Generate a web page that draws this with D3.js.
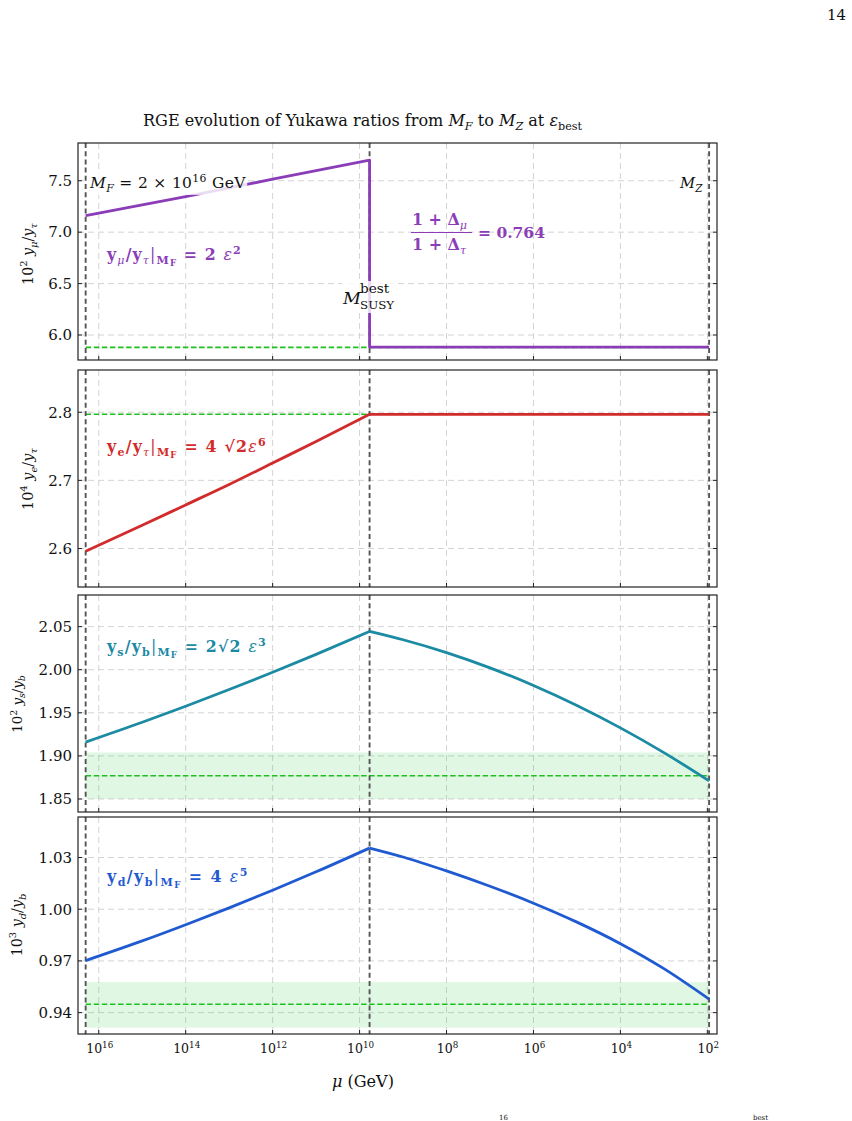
<!DOCTYPE html>
<html><head><meta charset="utf-8">
<script src="https://cdn.jsdelivr.net/npm/d3@7/dist/d3.min.js"></script>
<style>html,body{margin:0;padding:0;background:#fff;} svg{display:block;} text{white-space:pre;}</style>
</head><body>
<svg id="c" width="852" height="1121"></svg>
<script>
// ---------- data ----------
const xTickExp = [16, 14, 12, 10, 8, 6, 4, 2];
const logMF = Math.log10(2e16), logSUSY = 9.77, logMZ = Math.log10(91.19);
const logHigh = [logMF, 15, 14, 13, 12, 11, logSUSY];
const logLow = [logSUSY, 9, 8, 7, 6, 5, 4, 3, logMZ];
// panel 1 : 10^2 y_mu/y_tau
const ymuHigh = [7.16, 7.265, 7.345, 7.43, 7.515, 7.598, 7.70];
const ymuLow = 5.883;
const ymuTicks = [6.0, 6.5, 7.0, 7.5];
const ymuObs = 5.88;
// panel 2 : 10^4 y_e/y_tau
const yeHigh = [2.596, 2.634, 2.664, 2.694, 2.7255, 2.757, 2.797];
const yeLow = 2.797;
const yeTicks = [2.6, 2.7, 2.8];
const yeObs = 2.797;
// panel 3 : 10^2 y_s/y_b
const ysHigh = [1.916, 1.939, 1.9576, 1.977, 1.997, 2.0178, 2.0445];
const ysLow = [2.0445, 2.0348, 2.0199, 2.0022, 1.9817, 1.9585, 1.9325, 1.9038, 1.871];
const ysTicks = [1.85, 1.90, 1.95, 2.00, 2.05];
const ysObs = 1.877, ysBand = [1.850, 1.904];
// panel 4 : 10^3 y_d/y_b
const ydHigh = [0.9702, 0.9816, 0.991, 1.0008, 1.011, 1.0217, 1.0355];
const ydLow = [1.0355, 1.0303, 1.0222, 1.0133, 1.0035, 0.9925, 0.9800, 0.9655, 0.9478];
const ydTicks = [0.94, 0.97, 1.00, 1.03];
const ydObs = 0.9449, ydBand = [0.9313, 0.9577];

// ---------- setup ----------
const FONT = "'DejaVu Serif','Liberation Serif',serif";
const svg = d3.select('#c');
const X0 = 78, X1 = 717;
const x = d3.scaleLog().domain([3e16, 60]).range([X0, X1]);
const lx = l => x(Math.pow(10, l));

function rich(g, px, py, parts, o) {
  const t = g.append('text').attr('x', px).attr('y', py)
    .attr('font-family', FONT).attr('font-size', o.size)
    .attr('fill', o.color || '#111').attr('text-anchor', o.anchor || 'start');
  if (o.transform) t.attr('transform', o.transform);
  if (o.ls) t.attr('letter-spacing', o.ls);
  let cur = 0;
  parts.forEach(p => {
    const s = p[0], m = p[1] || '';
    let lvl = 0, fs = o.size;
    if (m.includes('^')) { lvl = -0.40 * o.size; fs = o.size * 0.7; }
    if (m.includes('_')) { lvl = 0.25 * o.size; fs = o.size * 0.7; }
    if (m.includes('__')) { lvl = 0.40 * o.size; fs = o.size * 0.55; }
    const ts = t.append('tspan').text(s).attr('font-size', fs);
    if (lvl - cur !== 0) ts.attr('dy', lvl - cur);
    cur = lvl;
    if (m.includes('i')) ts.attr('font-style', 'italic');
    if (m.includes('b')) ts.attr('font-weight', 'bold');
  });
  return t;
}
// render, then rescale the font (up to a cap, then letter-spacing) to span the width
function richFit(g, px, py, parts, o, W) {
  const t = rich(g, px, py, parts, o);
  const w = t.node().getBBox().width;
  t.remove();
  let size = o.size * W / w;
  if (o.cap && size > o.cap) {
    const n = parts.reduce((s, p) => s + p[0].length, 0);
    const w2 = w * o.cap / o.size;
    return rich(g, px, py, parts, Object.assign({}, o, { size: o.cap, ls: (W - w2) / n }));
  }
  return rich(g, px, py, parts, Object.assign({}, o, { size }));
}
function boxBehind(g, t, pad, op) {
  const b = t.node().getBBox();
  g.insert('rect', () => t.node()).attr('x', b.x - pad).attr('y', b.y - pad + 2)
    .attr('width', b.width + 2 * pad).attr('height', b.height + 2 * pad - 3)
    .attr('fill', '#fff').attr('opacity', op);
}

const panels = [
  { top: 143, bot: 360, dom: [5.757, 7.867], ticks: ymuTicks, fmt: d3.format('.1f'), color: '#8b3db8' },
  { top: 370, bot: 587, dom: [2.5435, 2.862], ticks: yeTicks, fmt: d3.format('.1f'), color: '#d22b2b' },
  { top: 595, bot: 812, dom: [1.8349, 2.0867], ticks: ysTicks, fmt: d3.format('.2f'), color: '#1b8aa3' },
  { top: 817, bot: 1034, dom: [0.9276, 1.0535], ticks: ydTicks, fmt: d3.format('.2f'), color: '#1f5ad1' }
];

panels.forEach((P, i) => {
  const y = d3.scaleLinear().domain(P.dom).range([P.bot, P.top]);
  P.y = y;
  const g = svg.append('g');
  P.g = g;
  const cid = 'clip' + i;
  svg.append('clipPath').attr('id', cid).append('rect')
    .attr('x', X0).attr('y', P.top).attr('width', X1 - X0).attr('height', P.bot - P.top);
  const gc = g.append('g').attr('clip-path', `url(#${cid})`);
  P.gc = gc;
  xTickExp.forEach(e => gc.append('line').attr('x1', lx(e)).attr('x2', lx(e))
    .attr('y1', P.top).attr('y2', P.bot).attr('stroke', '#d4d4d4').attr('stroke-width', 1)
    .attr('stroke-dasharray', '6,4'));
  P.ticks.forEach(v => gc.append('line').attr('x1', X0).attr('x2', X1)
    .attr('y1', y(v)).attr('y2', y(v)).attr('stroke', '#d4d4d4').attr('stroke-width', 1)
    .attr('stroke-dasharray', '6,4'));
});

function band(P, b) {
  P.gc.append('rect').attr('x', lx(logMF)).attr('width', lx(logMZ) - lx(logMF))
    .attr('y', P.y(b[1])).attr('height', P.y(b[0]) - P.y(b[1]))
    .attr('fill', '#2ecc40').attr('opacity', 0.15);
}
band(panels[2], ysBand);
band(panels[3], ydBand);
[ymuObs, yeObs, ysObs, ydObs].forEach((v, i) => {
  const P = panels[i];
  P.gc.append('line').attr('x1', lx(logMF)).attr('x2', lx(logMZ))
    .attr('y1', P.y(v)).attr('y2', P.y(v)).attr('stroke', '#1fbf1f')
    .attr('stroke-width', 1.6).attr('stroke-dasharray', '5.5,2.6');
});
panels.forEach(P => {
  [logMF, logSUSY, logMZ].forEach(l => P.gc.append('line')
    .attr('x1', lx(l)).attr('x2', lx(l)).attr('y1', P.top).attr('y2', P.bot)
    .attr('stroke', '#555').attr('stroke-width', 1.9).attr('stroke-dasharray', '5,3.2'));
});

const lineLin = d3.line().x(d => lx(d[0])).y(d => d[1]);
const lineMono = d3.line().x(d => lx(d[0])).y(d => d[1]).curve(d3.curveMonotoneX);
function drawPath(P, gen, pts) {
  P.gc.append('path').attr('d', gen(pts.map(p => [p[0], P.y(p[1])])))
    .attr('fill', 'none').attr('stroke', P.color).attr('stroke-width', 2.8)
    .attr('stroke-linejoin', 'round');
}
{
  const P = panels[0];
  const pts = logHigh.map((l, k) => [l, ymuHigh[k]]).concat([[logSUSY, ymuLow], [logMZ, ymuLow]]);
  drawPath(P, lineLin, pts);
}
{
  const P = panels[1];
  drawPath(P, lineMono, logHigh.map((l, k) => [l, yeHigh[k]]));
  drawPath(P, lineLin, [[logSUSY, yeLow], [logMZ, yeLow]]);
}
{
  const P = panels[2];
  drawPath(P, lineMono, logHigh.map((l, k) => [l, ysHigh[k]]));
  drawPath(P, lineMono, logLow.map((l, k) => [l, ysLow[k]]));
}
{
  const P = panels[3];
  drawPath(P, lineMono, logHigh.map((l, k) => [l, ydHigh[k]]));
  drawPath(P, lineMono, logLow.map((l, k) => [l, ydLow[k]]));
}

panels.forEach((P, i) => {
  const g = P.g;
  P.ticks.forEach(v => {
    g.append('line').attr('x1', X0).attr('x2', X0 + 4).attr('y1', P.y(v)).attr('y2', P.y(v)).attr('stroke', '#222');
    g.append('line').attr('x1', X1 - 4).attr('x2', X1).attr('y1', P.y(v)).attr('y2', P.y(v)).attr('stroke', '#222');
    g.append('text').attr('x', X0 - 6).attr('y', P.y(v) + 5.3).attr('text-anchor', 'end')
      .attr('font-family', FONT).attr('font-size', 15).attr('fill', '#111').text(P.fmt(v));
  });
  xTickExp.forEach(e => {
    g.append('line').attr('x1', lx(e)).attr('x2', lx(e)).attr('y1', P.bot).attr('y2', P.bot - 4).attr('stroke', '#222');
  });
  g.append('rect').attr('x', X0).attr('y', P.top).attr('width', X1 - X0).attr('height', P.bot - P.top)
    .attr('fill', 'none').attr('stroke', '#222').attr('stroke-width', 1.2);
});
xTickExp.forEach(e => {
  rich(svg, lx(e) + 1, 1053, [['10'], [String(e), '^']], { size: 12.5, anchor: 'middle' });
});

// y labels
richFit(svg, 33, 254, [['10'], ['2', '^'], [' '], ['y', 'i'], ['μ', 'i_'], ['/'], ['y', 'i'], ['τ', 'i_']], { size: 15, anchor: 'middle', transform: 'rotate(-90,33,254)' }, 62);
richFit(svg, 33, 479, [['10'], ['4', '^'], [' '], ['y', 'i'], ['e', 'i_'], ['/'], ['y', 'i'], ['τ', 'i_']], { size: 15, anchor: 'middle', transform: 'rotate(-90,33,479)' }, 62);
richFit(svg, 22, 704, [['10'], ['2', '^'], [' '], ['y', 'i'], ['s', 'i_'], ['/'], ['y', 'i'], ['b', 'i_']], { size: 15, anchor: 'middle', transform: 'rotate(-90,22,704)' }, 58);
richFit(svg, 22, 925, [['10'], ['3', '^'], [' '], ['y', 'i'], ['d', 'i_'], ['/'], ['y', 'i'], ['b', 'i_']], { size: 15, anchor: 'middle', transform: 'rotate(-90,22,925)' }, 63);

// x label
richFit(svg, 332, 1087, [['μ', 'i'], [' (GeV)']], { size: 16 }, 62);

// title
richFit(svg, 143, 126, [['RGE evolution of Yukawa ratios from '], ['M', 'i'], ['F', 'i_'], [' to '], ['M', 'i'], ['Z', 'i_'], [' at '], ['ε', 'i'], ['best', '_']], { size: 15 }, 440);

// page number
richFit(svg, 827, 20, [['14']], { size: 16 }, 19);

// annotations, panel 1
{
  const g = panels[0].g;
  const t1 = richFit(g, 90, 188, [['M', 'i'], ['F', 'i_'], [' = 2 × 10'], ['16', '^'], [' GeV']], { size: 15, cap: 15.5 }, 158);
  boxBehind(g, t1, 1, 0.82);
  const t2 = richFit(g, 680, 188, [['M', 'i'], ['Z', 'i_']], { size: 15 }, 24);
  boxBehind(g, t2, 1, 0.82);
  g.append('rect').attr('x', 342).attr('y', 281).attr('width', 56).attr('height', 32).attr('fill', '#fff').attr('opacity', 0.8);
  rich(g, 343, 304, [['M', 'i']], { size: 17.5 });
  richFit(g, 360, 293, [['best']], { size: 11 }, 30);
  richFit(g, 360, 309, [['SUSY']], { size: 11 }, 35);
  const c = panels[0].color;
  richFit(g, 107, 260, [['y', 'b'], ['μ', 'i_'], ['/', 'b'], ['y', 'b'], ['τ', 'i_'], ['|', ''], ['M', 'b_'], ['F', 'b__'], [' = 2 ', 'b'], ['ε', 'i'], ['2', 'b^']], { size: 15, color: c, cap: 15.8 }, 136);
  richFit(g, 412, 225, [['1 + Δ', 'b'], ['μ', 'i_']], { size: 16, color: c }, 55);
  g.append('line').attr('x1', 411).attr('x2', 472).attr('y1', 232.5).attr('y2', 232.5).attr('stroke', c).attr('stroke-width', 1);
  richFit(g, 412, 250, [['1 + Δ', 'b'], ['τ', 'i_']], { size: 16, color: c }, 55);
  richFit(g, 478, 238, [['= 0.764', 'b']], { size: 16, color: c }, 67);
}
richFit(panels[1].g, 107, 452, [['y', 'b'], ['e', 'b_'], ['/', 'b'], ['y', 'b'], ['τ', 'i_'], ['|', ''], ['M', 'b_'], ['F', 'b__'], [' = 4 √2', 'b'], ['ε', 'i'], ['6', 'b^']], { size: 15, color: panels[1].color, cap: 15.8 }, 161);
richFit(panels[2].g, 107, 652, [['y', 'b'], ['s', 'b_'], ['/', 'b'], ['y', 'b'], ['b', 'b_'], ['|', ''], ['M', 'b_'], ['F', 'b__'], [' = 2√2 ', 'b'], ['ε', 'i'], ['3', 'b^']], { size: 15, color: panels[2].color, cap: 15.8 }, 161);
richFit(panels[3].g, 107, 882, [['y', 'b'], ['d', 'b_'], ['/', 'b'], ['y', 'b'], ['b', 'b_'], ['|', ''], ['M', 'b_'], ['F', 'b__'], [' = 4 ', 'b'], ['ε', 'i'], ['5', 'b^']], { size: 15, color: panels[3].color, cap: 15.8 }, 143);

// caption fragments visible at the page bottom
svg.append('text').attr('x', 499).attr('y', 1120).attr('font-family', FONT).attr('font-size', 7).attr('fill', '#111').text('16');
svg.append('text').attr('x', 753).attr('y', 1120).attr('font-family', FONT).attr('font-size', 7).attr('fill', '#111').text('best');
</script>
</body></html>
